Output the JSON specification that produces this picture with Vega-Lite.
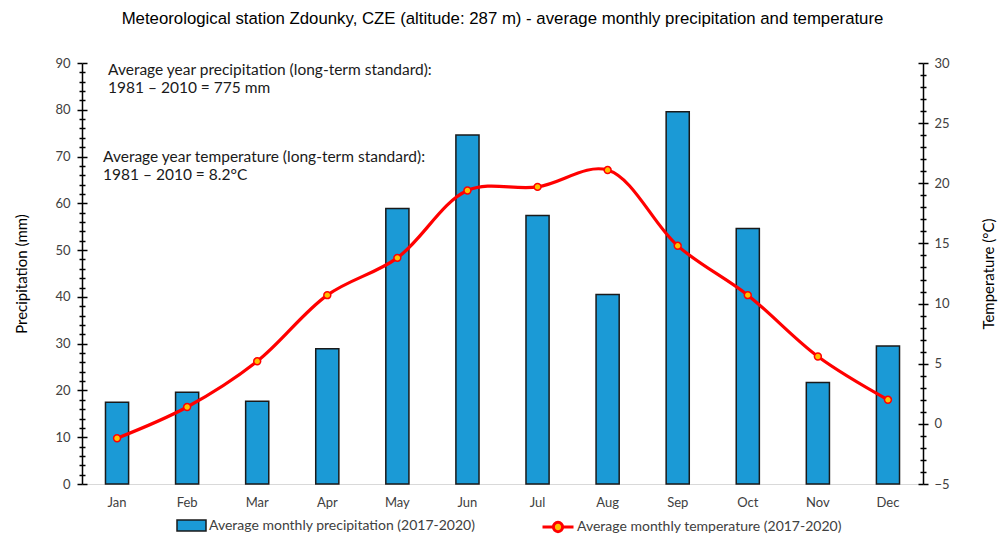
{
  "$schema": "https://vega.github.io/schema/vega-lite/v6.json",
  "width": 841,
  "height": 421,
  "autosize": "none",
  "padding": {"left": 82, "top": 63, "right": 85, "bottom": 51},
  "background": "white",
  "config": {"view": {"stroke": null}, "font": "Lato"},
  "title": {
    "text": "Meteorological station Zdounky, CZE (altitude: 287 m) - average monthly precipitation and temperature",
    "font": "Liberation Sans",
    "fontSize": 16.8,
    "fontWeight": "normal",
    "color": "#000000",
    "anchor": "middle",
    "offset": 29
  },
  "data": {
    "values": [
      {"month": "Jan", "precip": 17.5, "temp": -1.2},
      {"month": "Feb", "precip": 19.6, "temp": 1.4},
      {"month": "Mar", "precip": 17.7, "temp": 5.2},
      {"month": "Apr", "precip": 28.9, "temp": 10.7},
      {"month": "May", "precip": 58.9, "temp": 13.8},
      {"month": "Jun", "precip": 74.6, "temp": 19.4},
      {"month": "Jul", "precip": 57.4, "temp": 19.7},
      {"month": "Aug", "precip": 40.5, "temp": 21.1},
      {"month": "Sep", "precip": 79.6, "temp": 14.8},
      {"month": "Oct", "precip": 54.6, "temp": 10.7},
      {"month": "Nov", "precip": 21.7, "temp": 5.6},
      {"month": "Dec", "precip": 29.5, "temp": 2.0}
    ]
  },
  "layer": [
    {
      "layer": [
        {
          "mark": {"type": "bar", "stroke": "#1a1a1a", "strokeWidth": 1.5},
          "encoding": {
            "x": {
              "field": "month",
              "type": "nominal",
              "sort": null,
              "scale": {
                "domain": ["Jan", "Feb", "Mar", "Apr", "May", "Jun", "Jul", "Aug", "Sep", "Oct", "Nov", "Dec"],
                "paddingInner": 0.67,
                "paddingOuter": 0.335
              },
              "axis": {
                "title": null,
                "labelAngle": 0,
                "ticks": false,
                "domainColor": "#d9d9d9",
                "domainWidth": 1,
                "labelPadding": 12,
                "labelFont": "Lato",
                "labelFontSize": 13,
                "labelColor": "#404040"
              }
            },
            "y": {
              "field": "precip",
              "type": "quantitative",
              "scale": {"domain": [0, 90], "nice": false},
              "axis": {
                "orient": "left",
                "title": "Precipitation (mm)",
                "titleFont": "Lato",
                "titleFontSize": 15,
                "titleFontWeight": "normal",
                "titleColor": "#000000",
                "titlePadding": 25,
                "values": [0,2,4,6,8,10,12,14,16,18,20,22,24,26,28,30,32,34,36,38,40,42,44,46,48,50,52,54,56,58,60,62,64,66,68,70,72,74,76,78,80,82,84,86,88,90],
                "labelExpr": "datum.value % 10 === 0 ? datum.label : ''",
                "labelOverlap": false,
                "labelFont": "Lato",
                "labelFontSize": 13,
                "labelColor": "#404040",
                "labelPadding": 7,
                "grid": false,
                "domainColor": "#000000",
                "domainWidth": 1.5,
                "tickColor": "#000000",
                "tickWidth": 1.5,
                "tickSize": {"condition": {"test": "datum.value % 10 === 0", "value": 5}, "value": 3}
              }
            },
            "color": {
              "datum": "Average monthly precipitation (2017-2020)",
              "type": "nominal",
              "scale": {"range": ["#1b9ad6"]},
              "legend": {
                "title": null,
                "orient": "none",
                "legendX": 94,
                "legendY": 447,
                "symbolType": "M-1,-0.38H1V0.38H-1Z",
                "symbolSize": 841,
                "symbolStrokeColor": "#1a1a1a",
                "symbolStrokeWidth": 1.5,
                "labelFont": "Lato",
                "labelFontSize": 14,
                "labelColor": "#404040",
                "labelOffset": 2,
                "labelLimit": 400
              }
            }
          }
        },
        {
          "mark": {"type": "bar", "opacity": 0},
          "encoding": {
            "x": {"field": "month", "type": "nominal", "sort": null},
            "y": {
              "field": "precip",
              "type": "quantitative",
              "scale": {"domain": [0, 90], "nice": false},
              "axis": {
                "orient": "left",
                "title": null,
                "labels": false,
                "domain": false,
                "grid": false,
                "values": [0,2,4,6,8,10,12,14,16,18,20,22,24,26,28,30,32,34,36,38,40,42,44,46,48,50,52,54,56,58,60,62,64,66,68,70,72,74,76,78,80,82,84,86,88,90],
                "tickColor": "#000000",
                "tickWidth": 1.5,
                "tickSize": {"condition": {"test": "datum.value % 10 === 0", "value": -5}, "value": -3}
              }
            }
          }
        },
        {
          "data": {"values": [{}]},
          "mark": {"type": "text", "align": "left", "baseline": "middle", "font": "Lato", "fontSize": 15.5, "color": "#1a1a1a", "dx": -9, "lineHeight": 18},
          "encoding": {
            "x": {"datum": "Jan", "type": "nominal"},
            "y": {"datum": 88.5, "type": "quantitative", "axis": null},
            "text": {"value": ["Average year precipitation (long-term standard):", "1981 – 2010 = 775 mm"]}
          }
        },
        {
          "data": {"values": [{}]},
          "mark": {"type": "text", "align": "left", "baseline": "middle", "font": "Lato", "fontSize": 15.5, "color": "#1a1a1a", "dx": -14, "lineHeight": 18},
          "encoding": {
            "x": {"datum": "Jan", "type": "nominal"},
            "y": {"datum": 69.9, "type": "quantitative", "axis": null},
            "text": {"value": ["Average year temperature (long-term standard):", "1981 – 2010 = 8.2°C"]}
          }
        }
      ],
      "resolve": {"axis": {"y": "independent"}}
    },
    {
      "layer": [
        {
          "mark": {"type": "line", "interpolate": "catmull-rom", "strokeWidth": 3.2},
          "encoding": {
            "x": {"field": "month", "type": "nominal", "sort": null},
            "y": {
              "field": "temp",
              "type": "quantitative",
              "scale": {"domain": [-5, 30], "nice": false},
              "axis": {
                "orient": "right",
                "title": "Temperature (°C)",
                "titleAngle": 270,
                "titleFont": "Lato",
                "titleFontSize": 15,
                "titleFontWeight": "normal",
                "titleColor": "#000000",
                "titlePadding": 47,
                "values": [-5,-4,-3,-2,-1,0,1,2,3,4,5,6,7,8,9,10,11,12,13,14,15,16,17,18,19,20,21,22,23,24,25,26,27,28,29,30],
                "labelExpr": "datum.value % 5 === 0 ? datum.label : ''",
                "labelOverlap": false,
                "labelFont": "Lato",
                "labelFontSize": 13,
                "labelColor": "#404040",
                "labelPadding": 6,
                "grid": false,
                "domainColor": "#000000",
                "domainWidth": 1.5,
                "tickColor": "#000000",
                "tickWidth": 1.5,
                "tickSize": {"condition": {"test": "datum.value % 5 === 0", "value": 5}, "value": 3}
              }
            },
            "stroke": {
              "datum": "Average monthly temperature (2017-2020)",
              "type": "nominal",
              "scale": {"range": ["#ff0000"]},
              "legend": {
                "title": null,
                "orient": "none",
                "legendX": 459,
                "legendY": 447,
                "symbolType": "M-1,0H-0.3M0.3,0H1M0.3,0A0.3,0.3,0,1,1,-0.3,0A0.3,0.3,0,1,1,0.3,0",
                "symbolSize": 961,
                "symbolStrokeWidth": 3,
                "labelFont": "Lato",
                "labelFontSize": 14,
                "labelColor": "#404040",
                "labelOffset": 2,
                "labelLimit": 400,
                "encode": {"symbols": {"update": {"fill": {"value": "#ffc000"}, "fillOpacity": {"value": 1}}}}
              }
            }
          }
        },
        {
          "mark": {"type": "circle", "fill": "#ffc000", "stroke": "#ff0000", "strokeWidth": 1.5, "size": 48, "opacity": 1},
          "encoding": {
            "x": {"field": "month", "type": "nominal", "sort": null},
            "y": {"field": "temp", "type": "quantitative", "scale": {"domain": [-5, 30], "nice": false}, "axis": null}
          }
        },
        {
          "mark": {"type": "circle", "opacity": 0},
          "encoding": {
            "x": {"field": "month", "type": "nominal", "sort": null},
            "y": {
              "field": "temp",
              "type": "quantitative",
              "scale": {"domain": [-5, 30], "nice": false},
              "axis": {
                "orient": "right",
                "title": null,
                "labels": false,
                "domain": false,
                "grid": false,
                "values": [-5,-4,-3,-2,-1,0,1,2,3,4,5,6,7,8,9,10,11,12,13,14,15,16,17,18,19,20,21,22,23,24,25,26,27,28,29,30],
                "tickColor": "#000000",
                "tickWidth": 1.5,
                "tickSize": {"condition": {"test": "datum.value % 5 === 0", "value": -5}, "value": -3}
              }
            }
          }
        }
      ],
      "resolve": {"axis": {"y": "independent"}}
    }
  ],
  "resolve": {"scale": {"y": "independent"}}
}
